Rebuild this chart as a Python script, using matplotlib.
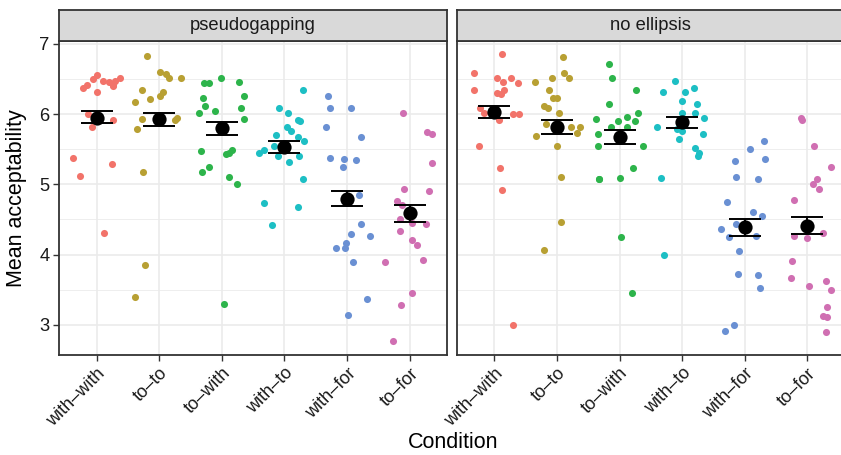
import matplotlib
matplotlib.use("Agg")
import matplotlib.pyplot as plt
import numpy as np

plt.rcParams['font.family'] = ['Liberation Sans', 'DejaVu Sans']

conditions = ["with–with", "to–to", "to–with", "with–to", "with–for", "to–for"]
facets = ["pseudogapping", "no ellipsis"]
colors = ["#F2736A", "#B8A033", "#2DB44B", "#1DBFC4", "#6A90D3", "#D06FB2"]

# ---- pseudogapping: values and horizontal jitter ----
pg_ww_y = [6.55, 6.50, 6.47, 6.46, 6.42, 6.47, 6.51, 6.41, 6.37, 6.32, 6.40, 6.00, 5.91, 5.81, 5.37, 5.29, 5.12, 4.30]
pg_ww_dx = [0.00, -0.05, 0.11, 0.20, 0.27, 0.29, 0.37, -0.15, -0.21, 0.01, 0.27, -0.13, 0.27, -0.07, -0.37, 0.24, -0.26, 0.12]
pg_tt_y = [6.83, 6.60, 6.57, 6.51, 6.51, 6.34, 6.31, 6.26, 6.22, 6.17, 5.93, 5.94, 5.91, 5.79, 5.18, 3.85, 3.40]
pg_tt_dx = [-0.20, 0.01, 0.11, 0.16, 0.34, -0.27, 0.06, 0.01, -0.14, -0.39, -0.28, 0.28, 0.25, -0.35, -0.26, -0.22, -0.39]
pg_tw_y = [6.44, 6.44, 6.51, 6.45, 6.23, 6.26, 6.11, 6.04, 6.08, 6.01, 5.93, 5.48, 5.43, 5.45, 5.49, 5.25, 5.18, 5.10, 5.00, 3.30]
pg_tw_dx = [-0.29, -0.21, -0.02, 0.27, -0.30, 0.36, -0.27, -0.11, 0.31, -0.37, 0.36, -0.34, 0.07, 0.12, 0.17, -0.21, -0.31, 0.12, 0.24, 0.03]
pg_wt_y = [6.34, 6.08, 6.01, 5.91, 5.90, 5.82, 5.76, 5.70, 5.68, 5.62, 5.55, 5.49, 5.44, 5.41, 5.41, 5.32, 5.07, 4.73, 4.67, 4.42]
pg_wt_dx = [0.30, -0.09, 0.06, 0.21, 0.25, 0.04, 0.11, -0.13, 0.22, 0.31, -0.16, -0.32, -0.40, -0.11, 0.24, 0.08, 0.30, -0.32, 0.21, -0.20]
pg_wf_y = [6.26, 6.08, 6.08, 5.81, 5.68, 5.37, 5.36, 5.34, 5.25, 4.85, 4.43, 4.29, 4.26, 4.17, 4.09, 4.09, 3.89, 3.37, 3.14]
pg_wf_dx = [-0.30, -0.27, 0.07, -0.33, 0.22, -0.28, -0.05, 0.15, -0.06, 0.19, 0.22, 0.06, 0.37, -0.02, -0.17, -0.03, 0.10, 0.31, 0.02]
pg_tf_y = [6.01, 5.75, 5.71, 5.30, 4.93, 4.91, 4.76, 4.70, 4.50, 4.45, 4.44, 4.33, 4.21, 4.14, 3.89, 3.92, 3.45, 3.28, 2.77]
pg_tf_dx = [-0.10, 0.28, 0.36, 0.36, -0.09, 0.30, -0.21, -0.13, -0.16, 0.03, 0.26, -0.16, 0.03, 0.12, -0.39, 0.21, 0.04, -0.14, -0.26]

# ---- no ellipsis ----
ne_ww_y = [6.86, 6.58, 6.51, 6.46, 6.51, 6.44, 6.34, 6.34, 6.30, 6.29, 6.09, 6.01, 5.91, 6.00, 6.00, 5.55, 5.23, 4.92, 3.00]
ne_ww_dx = [0.12, -0.32, 0.04, 0.14, 0.27, 0.38, -0.32, 0.15, 0.04, 0.11, -0.22, -0.17, 0.07, 0.30, 0.40, -0.24, 0.09, 0.13, 0.30]
ne_tt_y = [6.81, 6.58, 6.51, 6.46, 6.51, 6.34, 6.23, 6.23, 6.11, 6.09, 6.01, 5.86, 5.82, 5.81, 5.73, 5.69, 5.55, 5.10, 4.46, 4.07]
ne_tt_dx = [0.10, 0.12, 0.20, -0.35, -0.08, -0.13, -0.07, 0.00, -0.20, -0.14, 0.03, -0.17, 0.23, 0.37, 0.32, -0.34, 0.00, 0.06, 0.07, -0.21]
ne_tw_y = [6.71, 6.51, 6.34, 6.15, 6.01, 5.93, 5.96, 5.90, 5.90, 5.82, 5.81, 5.71, 5.55, 5.55, 5.23, 5.08, 5.07, 5.09, 4.25, 3.45]
ne_tw_dx = [-0.17, -0.12, 0.26, -0.17, 0.30, -0.38, 0.12, -0.03, 0.25, -0.14, 0.12, -0.34, -0.35, 0.37, 0.22, -0.32, -0.33, 0.00, 0.02, 0.20]
ne_wt_y = [6.47, 6.31, 6.31, 6.37, 6.19, 6.15, 6.01, 6.01, 5.95, 5.81, 5.79, 5.76, 5.71, 5.65, 5.51, 5.45, 5.41, 5.09, 4.00]
ne_wt_dx = [-0.12, -0.30, 0.04, 0.19, 0.00, 0.24, -0.01, 0.20, 0.35, -0.40, -0.09, -0.01, 0.34, -0.05, 0.21, 0.27, 0.25, -0.34, -0.29]
ne_wf_y = [5.61, 5.50, 5.33, 5.36, 5.11, 5.07, 4.75, 4.61, 4.55, 4.36, 4.43, 4.25, 4.27, 4.05, 3.72, 3.71, 3.53, 2.99, 2.91]
ne_wf_dx = [0.30, 0.09, -0.15, 0.32, -0.14, 0.21, -0.29, 0.13, 0.28, -0.38, -0.14, -0.25, 0.18, -0.09, -0.11, 0.21, 0.25, -0.17, -0.32]
ne_tf_y = [5.95, 5.91, 5.54, 5.25, 5.07, 5.00, 4.93, 4.77, 4.26, 4.24, 4.30, 3.91, 3.66, 3.55, 3.63, 3.49, 3.25, 3.13, 3.11, 2.90]
ne_tf_dx = [-0.10, -0.09, 0.10, 0.37, 0.15, 0.09, 0.18, -0.21, -0.22, -0.01, 0.25, -0.24, -0.27, 0.02, 0.29, 0.38, 0.32, 0.25, 0.31, 0.29]

# ---- summary: mean and error-bar limits ----
pg_mean = [5.95, 5.93, 5.795, 5.53, 4.795, 4.59]
pg_lo = [5.87, 5.83, 5.70, 5.44, 4.686, 4.467]
pg_hi = [6.05, 6.01, 5.88, 5.62, 4.905, 4.71]
ne_mean = [6.03, 5.82, 5.676, 5.88, 4.39, 4.405]
ne_lo = [5.948, 5.719, 5.571, 5.795, 4.271, 4.286]
ne_hi = [6.119, 5.91, 5.771, 5.962, 4.51, 4.529]

pg_points = [(pg_ww_dx, pg_ww_y), (pg_tt_dx, pg_tt_y), (pg_tw_dx, pg_tw_y),
             (pg_wt_dx, pg_wt_y), (pg_wf_dx, pg_wf_y), (pg_tf_dx, pg_tf_y)]
ne_points = [(ne_ww_dx, ne_ww_y), (ne_tt_dx, ne_tt_y), (ne_tw_dx, ne_tw_y),
             (ne_wt_dx, ne_wt_y), (ne_wf_dx, ne_wf_y), (ne_tf_dx, ne_tf_y)]

W, H = 841, 455
fig = plt.figure(figsize=(W / 100, H / 100), dpi=100)

panel_w = 388.3
panel_lefts = [59, 456.7]
panel_top, panel_bot = 41, 355
strip_top = 9.5

border = "#333333"
grid_c = "#EBEBEB"

for fi, (facet, pts, mean, lo, hi) in enumerate(zip(
        facets, [pg_points, ne_points], [pg_mean, ne_mean], [pg_lo, ne_lo], [pg_hi, ne_hi])):
    L = panel_lefts[fi]
    ax = fig.add_axes([L / W, 1 - panel_bot / H, panel_w / W, (panel_bot - panel_top) / H])
    ax.set_xlim(0.4, 6.6)
    ax.set_ylim(2.57, 7.04)
    ax.set_facecolor("white")
    # grid
    for yv in np.arange(3.5, 7.0, 1.0):
        ax.axhline(yv, color=grid_c, lw=0.6, zorder=0)
    for yv in range(3, 8):
        ax.axhline(yv, color=grid_c, lw=1.2, zorder=0)
    for xv in range(1, 7):
        ax.axvline(xv, color=grid_c, lw=1.2, zorder=0)

    for ci, (dx, yv) in enumerate(pts):
        xs = np.array(dx) + (ci + 1)
        ax.scatter(xs, yv, s=26, color=colors[ci], linewidths=0, zorder=2)

    xc = np.arange(1, 7)
    m = np.array(mean)
    ax.errorbar(xc, m, yerr=[m - np.array(lo), np.array(hi) - m], fmt="none",
                ecolor="black", elinewidth=1.4, capsize=11.2, capthick=1.4, zorder=3)
    ax.scatter(xc, m, s=105, color="black", zorder=4, linewidths=0)

    ax.set_xticks(xc)
    ax.set_xticklabels(conditions, rotation=45, ha="right", va="top",
                       rotation_mode="anchor", fontsize=13, color="#1A1A1A")
    ax.set_yticks([3, 4, 5, 6, 7])
    if fi == 0:
        ax.set_yticklabels(["3", "4", "5", "6", "7"], fontsize=13.2, color="#1A1A1A")
    else:
        ax.set_yticklabels([])
    ax.tick_params(axis="both", direction="out", length=4, width=1, color=border, pad=3)
    if fi == 1:
        ax.tick_params(axis="y", length=0)
    for sp in ax.spines.values():
        sp.set_color(border)
        sp.set_linewidth(1.3)
        sp.set_zorder(5)

    # strip
    sax = fig.add_axes([L / W, 1 - panel_top / H, panel_w / W, (panel_top - strip_top) / H])
    sax.set_facecolor("#D9D9D9")
    sax.set_xticks([])
    sax.set_yticks([])
    for sp in sax.spines.values():
        sp.set_color(border)
        sp.set_linewidth(1.3)
    sax.text(0.5, 0.48, facet, ha="center", va="center", fontsize=13.2,
             color="#1A1A1A", transform=sax.transAxes)

fig.text(17 / W, 1 - 198 / H, "Mean acceptability", rotation=90, ha="center",
         va="center", fontsize=15.5, color="black")
fig.text(453 / W, 1 - 443 / H, "Condition", ha="center", va="center",
         fontsize=15.5, color="black")

fig.savefig("out.png", dpi=100)
